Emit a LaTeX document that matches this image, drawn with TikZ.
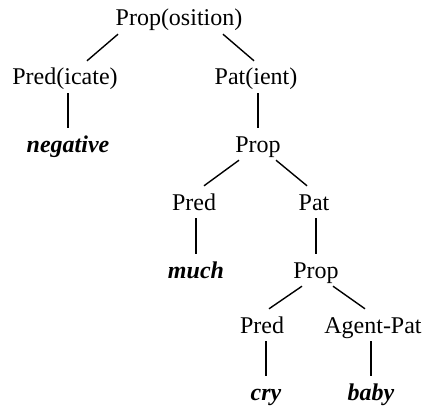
\documentclass[tikz,border=0pt]{standalone}
\usepackage{fontspec}
\setmainfont{Liberation Serif}

\begin{document}
\begin{tikzpicture}[x=1pt, y=-1pt,
    lbl/.style={anchor=base, inner sep=0pt, text height=24pt, text depth=8pt,
      font=\fontsize{24}{28}\selectfont},
    leaf/.style={lbl, font=\fontsize{24}{28}\selectfont\bfseries\itshape},
    edge/.style={line width=1.4pt}
  ]
    \useasboundingbox (0,0) rectangle (430,406);
    \node[lbl] (prop) at (179, 26) {Prop(osition)};
    \node[lbl] (pred) at (65, 85) {Pred(icate)};
    \node[lbl] (pat) at (256, 85) {Pat(ient)};
    \node[leaf] (neg) at (68, 152) {negative};
    \node[lbl] (prop2) at (258, 152) {Prop};
    \node[lbl] (pred2) at (194, 210) {Pred};
    \node[lbl] (pat2) at (314, 210) {Pat};
    \node[leaf] (much) at (196, 278) {much};
    \node[lbl] (prop3) at (316, 278) {Prop};
    \node[lbl] (pred3) at (262, 333) {Pred};
    \node[lbl] (agpat) at (373, 333) {Agent-Pat};
    \node[leaf] (cry) at (266, 400) {cry};
    \node[leaf] (baby) at (371, 400) {baby};
    % top level
    \draw[edge] ([xshift=-61pt]prop.south) -- ([xshift=22pt]pred.north);
    \draw[edge] ([xshift=44pt]prop.south) -- ([xshift=-2pt]pat.north);
    \draw[edge] (neg.north |- pred.south) -- (neg.north);
    \draw[edge] (prop2.north |- pat.south) -- (prop2.north);
    % second level
    \draw[edge] ([xshift=-19pt]prop2.south) -- ([xshift=10pt]pred2.north);
    \draw[edge] ([xshift=18pt]prop2.south) -- ([xshift=-7pt]pat2.north);
    \draw[edge] (much.north |- pred2.south) -- (much.north);
    \draw[edge] (prop3.north |- pat2.south) -- (prop3.north);
    % third level
    \draw[edge] ([xshift=-14pt]prop3.south) -- ([xshift=7pt]pred3.north);
    \draw[edge] ([xshift=17pt]prop3.south) -- ([xshift=-8pt]agpat.north);
    \draw[edge] (cry.north |- pred3.south) -- (cry.north);
    \draw[edge] (baby.north |- agpat.south) -- (baby.north);
  \end{tikzpicture}
\end{document}
